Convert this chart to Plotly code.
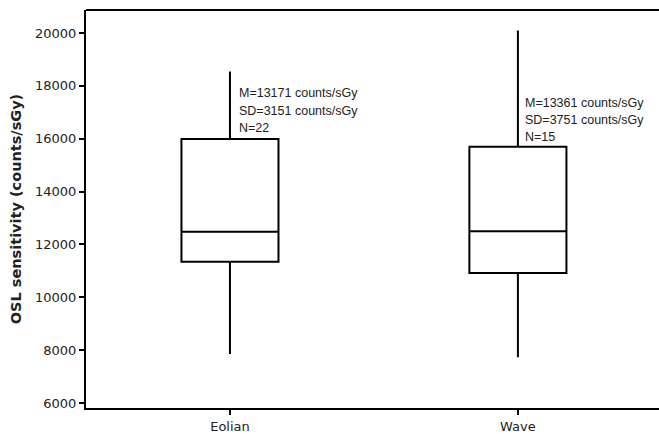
import plotly.graph_objects as go

categories = ["Eolian", "Wave"]
q1 = [11340, 10920]
median = [12480, 12500]
q3 = [15990, 15700]
lower = [7850, 7730]
upper = [18540, 20090]
means = [13171, 13361]
sds = [3151, 3751]
ns = [22, 15]
y_ticks = [6000, 8000, 10000, 12000, 14000, 16000, 18000, 20000]
y_ticklabels = [str(v) for v in y_ticks]

fig = go.Figure()
for i, c in enumerate(categories):
    fig.add_trace(go.Box(
        x=[i], q1=[q1[i]], median=[median[i]], q3=[q3[i]],
        lowerfence=[lower[i]], upperfence=[upper[i]],
        fillcolor="white", line=dict(color="black", width=2),
        whiskerwidth=0, width=0.337, boxpoints=False, showlegend=False,
        hoverinfo="skip"))

ann_pos = [(0.024, [17730, 17060, 16405]), (1.018, [17363, 16708, 16065])]
for i, (ax, ys) in enumerate(ann_pos):
    lines = [f"M={means[i]} counts/sGy", f"SD={sds[i]} counts/sGy", f"N={ns[i]}"]
    for t, yy in zip(lines, ys):
        fig.add_annotation(x=ax, y=yy, xref="x", yref="y", text=t, showarrow=False,
                           xanchor="left", yanchor="middle",
                           font=dict(family="Liberation Sans, Arial", size=12.5, color="#222"))

fig.add_shape(type="line", xref="paper", yref="paper", x0=0, x1=1, y0=1, y1=1,
              line=dict(color="black", width=2))

fig.update_layout(
    width=659, height=436,
    margin=dict(l=86, r=0, t=10, b=28),
    paper_bgcolor="white", plot_bgcolor="white",
    xaxis=dict(range=[-0.5, 1.49], tickvals=[0, 1], ticktext=categories,
               automargin=False,
               showline=True, linecolor="black", linewidth=2, ticks="outside",
               ticklen=5, tickcolor="black", tickwidth=2, showgrid=False, zeroline=False,
               tickfont=dict(family="DejaVu Sans", size=13, color="#222")),
    yaxis=dict(range=[5811, 20870], tickvals=y_ticks, ticktext=y_ticklabels,
               automargin=False,
               showline=True, linecolor="black", linewidth=2, ticks="outside",
               ticklen=5, tickcolor="black", tickwidth=2, showgrid=False, zeroline=False,
               tickfont=dict(family="DejaVu Sans", size=13, color="#222"),
               title=dict(text="<b>OSL sensitivity (counts/sGy)</b>", standoff=10,
                          font=dict(family="DejaVu Sans", size=14.5, color="#222"))),
)
fig.write_html("out.html", config={"displayModeBar": False},
               post_script="document.body.style.margin='0';document.body.style.overflow='hidden';")
